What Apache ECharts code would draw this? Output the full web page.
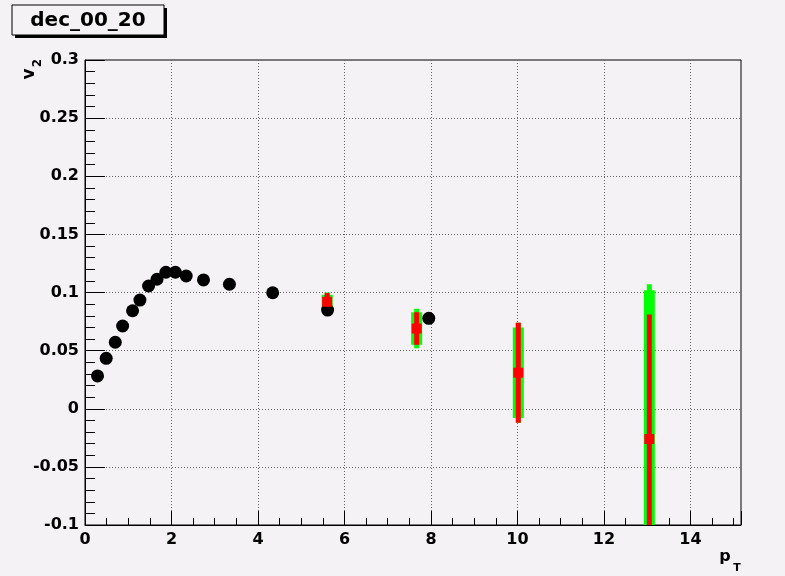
<!DOCTYPE html>
<html><head><meta charset="utf-8">
<script src="https://cdn.jsdelivr.net/npm/echarts@6/dist/echarts.min.js"></script>
<style>html,body{margin:0;padding:0;background:#f5f2f5}#c{width:785px;height:576px}</style>
</head><body><div id="c"></div>
<script>
// ---- data ----
const titleText = 'dec_00_20';
const xTickLabels = ['0','2','4','6','8','10','12','14'];
const yTickLabels = ['-0.1','-0.05','0','0.05','0.1','0.15','0.2','0.25','0.3'];
const ptBlack = [0.29,0.49,0.70,0.87,1.10,1.27,1.47,1.665,1.87,2.09,2.34,2.74,3.34,4.34,5.61,7.95];
const v2Black = [0.0282,0.0434,0.0572,0.0712,0.0843,0.0935,0.1056,0.1114,0.1174,0.1174,0.1142,0.1108,0.1071,0.0998,0.0849,0.0778];
const ptRed = [5.6,7.67,10.02,13.05];
const v2Red = [0.092,0.069,0.031,-0.026];
const errStat = [0.0075,0.014,0.043,0.107];
const errGreenLine = [0.008,0.017,0.043,0.133];
const errGreenBox = [0.006,0.014,0.039,0.128];

// ---- chart ----
const BG = '#f5f2f5';
const FONT = 'DejaVu Sans';
const chart = echarts.init(document.getElementById('c'), null, {renderer:'canvas'});

function barSeries(errs, width, color) {
  return {
    type: 'custom',
    xAxisIndex: 0, yAxisIndex: 0,
    encode: {x: 0, y: 1},
    data: ptRed.map((x, i) => [x, v2Red[i], errs[i]]),
    renderItem: function (params, api) {
      const x = api.value(0), y = api.value(1), e = api.value(2);
      const p1 = api.coord([x, y + e]);
      const p2 = api.coord([x, y - e]);
      const cs = params.coordSys;
      const r = echarts.graphic.clipRectByRect(
        {x: p1[0] - width / 2, y: p1[1], width: width, height: p2[1] - p1[1]},
        {x: cs.x, y: cs.y, width: cs.width, height: cs.height});
      return r ? {type: 'rect', shape: r, style: {fill: color}} : null;
    },
    silent: true,
    animation: false
  };
}

const option = {
  backgroundColor: BG,
  animation: false,
  grid: {left: 85, top: 60, right: 44, bottom: 51, show: true, borderColor: '#000', borderWidth: 1, backgroundColor: 'transparent'},
  xAxis: [{
    type: 'value', min: 0, max: 15.17, interval: 2,
    axisLine: {onZero: false, lineStyle: {color: '#000', width: 1}},
    axisTick: {inside: true, length: 14, lineStyle: {color: '#000'}},
    axisLabel: {
      color: '#000', fontFamily: FONT, fontWeight: 'bold', fontSize: 16, margin: 7,
      formatter: v => { const s = String(+(+v).toFixed(4)); return xTickLabels.includes(s) ? s : ''; }
    },
    splitLine: {show: true, showMinLine: false, showMaxLine: false, lineStyle: {color: '#666', type: [1, 2], width: 1}}
  }, {
    type: 'value', min: 0, max: 15.17, interval: 0.5, position: 'bottom',
    axisLine: {show: false, onZero: false},
    axisTick: {inside: true, length: 7, lineStyle: {color: '#000'}},
    axisLabel: {show: false},
    splitLine: {show: false}
  }],
  yAxis: {
    type: 'value', min: -0.1, max: 0.3, interval: 0.05,
    axisLine: {onZero: false, lineStyle: {color: '#000', width: 1}},
    axisTick: {inside: true, length: 20, lineStyle: {color: '#000'}},
    minorTick: {show: true, splitNumber: 5, length: 10, lineStyle: {color: '#000'}},
    axisLabel: {
      color: '#000', fontFamily: FONT, fontWeight: 'bold', fontSize: 16, margin: 6,
      formatter: v => { const s = String(+(+v).toFixed(4)); return yTickLabels.includes(s) ? s : ''; }
    },
    splitLine: {show: true, showMinLine: false, showMaxLine: false, lineStyle: {color: '#666', type: [1, 2], width: 1}}
  },
  series: [
    {
      type: 'scatter', xAxisIndex: 0, yAxisIndex: 0,
      symbol: 'circle', symbolSize: 13,
      itemStyle: {color: '#000', opacity: 1},
      data: ptBlack.map((x, i) => [x, v2Black[i]]),
      silent: true
    },
    barSeries(errGreenBox, 11, '#00ff00'),
    barSeries(errGreenLine, 5, '#00ff00'),
    barSeries(errStat, 5, '#ff0000'),
    {
      type: 'scatter', xAxisIndex: 0, yAxisIndex: 0,
      symbol: 'rect', symbolSize: 10,
      itemStyle: {color: '#ff0000', opacity: 1},
      data: ptRed.map((x, i) => [x, v2Red[i]]),
      silent: true
    }
  ],
  graphic: [
    {type: 'rect', shape: {x: 15, y: 8, width: 152, height: 30}, style: {fill: '#000'}, z: 10},
    {type: 'rect', shape: {x: 12, y: 5, width: 152, height: 30}, style: {fill: BG, stroke: '#000', lineWidth: 1}, z: 11},
    {type: 'text', x: 88, y: 21, z: 12, style: {text: titleText, fill: '#000', font: 'bold 20px "DejaVu Sans"', align: 'center', verticalAlign: 'middle'}},
    // y axis title v_2 (rotated)
    {type: 'text', x: 30, y: 74, rotation: Math.PI / 2, z: 12, style: {text: 'v', fill: '#000', font: 'bold 17px "DejaVu Sans"', align: 'center', verticalAlign: 'middle'}},
    {type: 'text', x: 38, y: 63, rotation: Math.PI / 2, z: 12, style: {text: '2', fill: '#000', font: 'bold 12px "DejaVu Sans"', align: 'center', verticalAlign: 'middle'}},
    // x axis title p_T
    {type: 'text', x: 725, y: 557, z: 12, style: {text: 'p', fill: '#000', font: 'bold 16px "DejaVu Sans"', align: 'center', verticalAlign: 'middle'}},
    {type: 'text', x: 737, y: 568, z: 12, style: {text: 'T', fill: '#000', font: 'bold 11px "DejaVu Sans"', align: 'center', verticalAlign: 'middle'}}
  ]
};
chart.setOption(option);
</script>
</body></html>
